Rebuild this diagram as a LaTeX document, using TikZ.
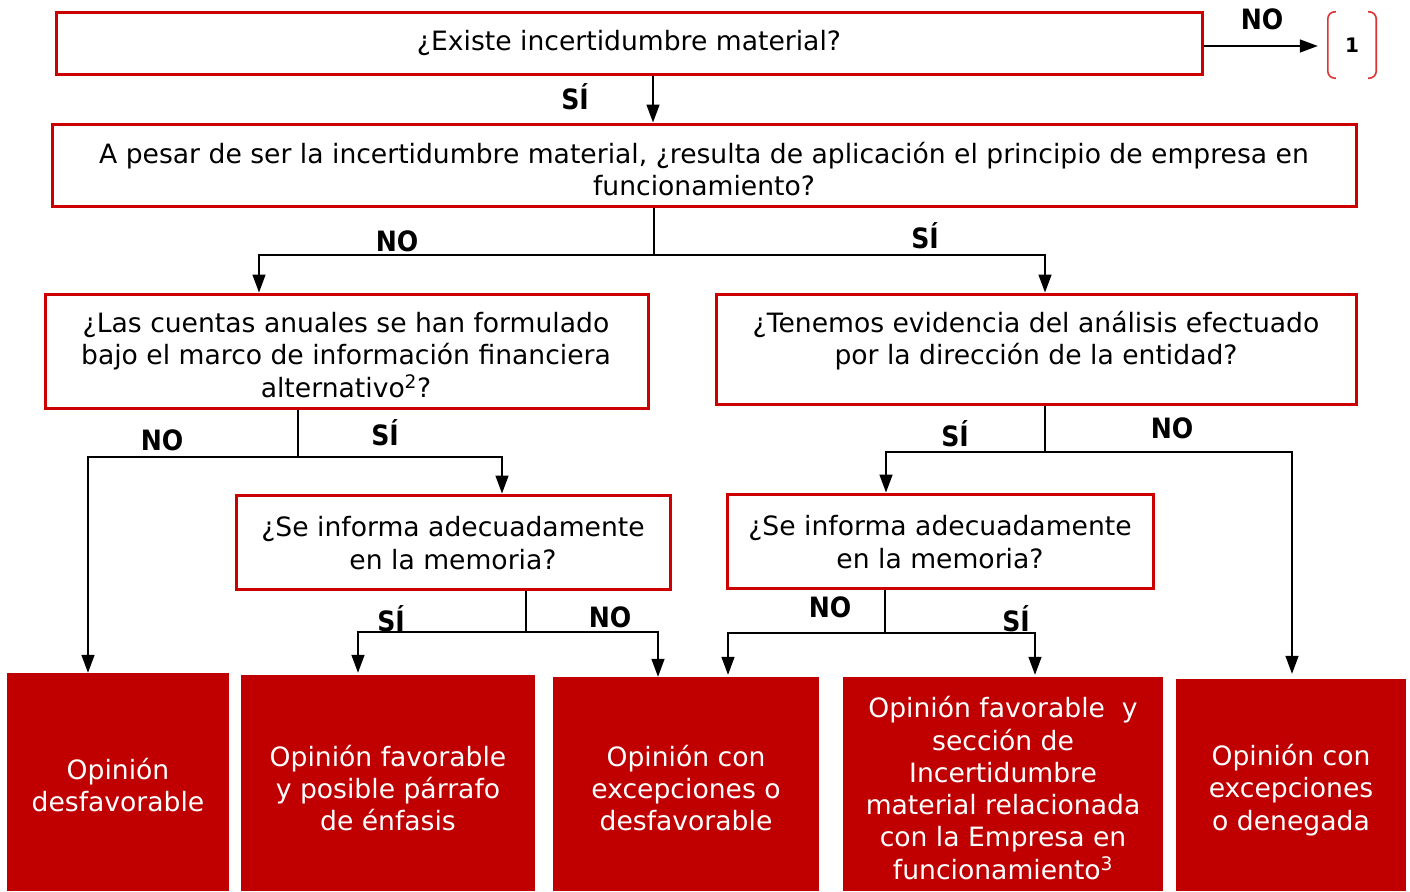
\documentclass[tikz,border=0pt]{standalone}
\usepackage{fontspec}
\setmainfont{DejaVu Sans}
\newfontfamily\labfont{DejaVu Sans Condensed}
\usetikzlibrary{arrows.meta,calc}
\definecolor{qred}{RGB}{204,0,0}
\definecolor{rred}{RGB}{192,0,0}
\definecolor{bred}{RGB}{220,50,50}
\begin{document}
\begin{tikzpicture}[x=1pt,y=-1pt,
  qbox/.style={draw=qred, line width=3pt, inner sep=0pt},
  qtext/.style={font=\fontsize{26.6}{32.5}\selectfont, align=center, inner sep=0pt},
  rbox/.style={fill=rred, inner sep=0pt},
  rtext/.style={font=\fontsize{26.6}{32.3}\selectfont, text=white, align=center, inner sep=0pt},
  lab/.style={font=\labfont\bfseries\fontsize{28}{30}\selectfont, inner sep=0pt},
  conn/.style={line width=1.5pt},
  arr/.style={conn, -{Triangle[length=18pt,width=13pt]}},
  brk/.style={draw=bred, line width=1.6pt, rounded corners=7pt}
]
\useasboundingbox (0,0) rectangle (1410,891);

% question boxes
\node[qbox, minimum width=1146pt, minimum height=61pt] (q1) at (629,43.5) {};
\node[qbox, minimum width=1304pt, minimum height=82pt] (q2) at (704,165) {};
\node[qbox, minimum width=603pt, minimum height=114pt] (q3) at (346.5,351) {};
\node[qbox, minimum width=640pt, minimum height=110pt] (q4) at (1036,349) {};
\node[qbox, minimum width=434pt, minimum height=94pt] (q5) at (453,542) {};
\node[qbox, minimum width=426pt, minimum height=94pt] (q6) at (940,541) {};

\node[qtext] (t1) at (629,43) {¿Existe incertidumbre material?};
\node[qtext] (t2) at (704,169) {A pesar de ser la incertidumbre material, ¿resulta de aplicación el principio de empresa en\\funcionamiento?};
\node[qtext] (t3) at (346,355) {¿Las cuentas anuales se han formulado\\bajo el marco de información financiera\\alternativo\textsuperscript{2}?};
\node[qtext] (t4) at (1036,340.5) {¿Tenemos evidencia del análisis efectuado\\por la dirección de la entidad?};
\node[qtext] (t5) at (453,543) {¿Se informa adecuadamente\\en la memoria?};
\node[qtext] (t6) at (940,542) {¿Se informa adecuadamente\\en la memoria?};

% result boxes
\node[rbox, minimum width=222pt, minimum height=218pt] (b1) at (118,782) {};
\node[rbox, minimum width=294pt, minimum height=216pt] (b2) at (388,783) {};
\node[rbox, minimum width=266pt, minimum height=214pt] (b3) at (686,784) {};
\node[rbox, minimum width=320pt, minimum height=214pt] (b4) at (1003,784) {};
\node[rbox, minimum width=230pt, minimum height=212pt] (b5) at (1291,785) {};

\node[rtext] (r1) at (118,785) {Opinión\\desfavorable};
\node[rtext] (r2) at (388,788) {Opinión favorable\\y posible párrafo\\de énfasis};
\node[rtext] (r3) at (686,788) {Opinión con\\excepciones o\\desfavorable};
\node[rtext] (r4) at (1003,788) {Opinión favorable\ \ y\\sección de\\Incertidumbre\\material relacionada\\con la Empresa en\\funcionamiento\textsuperscript{3}};
\node[rtext] (r5) at (1291,790) {Opinión con\\excepciones\\o denegada};

% box "1"
\node[inner sep=0pt, minimum width=48pt, minimum height=66pt, font=\bfseries\fontsize{20}{22}\selectfont] (n1) at (1352,45) {1};
\draw[brk] ([xshift=8pt]n1.north west) -- (n1.north west) -- (n1.south west) -- ([xshift=8pt]n1.south west);
\draw[brk] ([xshift=-8pt]n1.north east) -- (n1.north east) -- (n1.south east) -- ([xshift=-8pt]n1.south east);

% junctions
\coordinate (j1) at (654,255);
\coordinate (j2) at (298,457);
\coordinate (j3) at (526,632);
\coordinate (j4) at (1045,452);
\coordinate (j5) at (885,633);

% connectors
\draw[arr, shorten >=10pt] (q1.east |- 0,46) -- (n1.west |- 0,46);
\draw[arr] ([xshift=24pt]q1.south) -- ([xshift=-51pt]q2.north);

\draw[conn] (q2.south -| j1) -- (j1);
\draw[arr] (j1) -| ([xshift=-87.5pt]q3.north);
\draw[arr] (j1) -| ([xshift=9pt]q4.north);

\draw[conn] (q3.south -| j2) -- (j2);
\draw[arr] (j2) -| ([xshift=-30pt]b1.north);
\draw[arr] (j2) -| ([xshift=49pt]q5.north);

\draw[conn] (q5.south -| j3) -- (j3);
\draw[arr, shorten >=2pt] (j3) -| ([xshift=-30pt]b2.north);
\draw[arr] (j3) -| ([xshift=-28pt]b3.north);

\draw[conn] (q4.south -| j4) -- (j4);
\draw[arr] (j4) -| ([xshift=-54pt]q6.north);
\draw[arr, shorten >=5pt] (j4) -| ([xshift=1pt]b5.north);

\draw[conn] (q6.south -| j5) -- (j5);
\draw[arr, shorten >=2pt] (j5) -| ([xshift=42pt]b3.north);
\draw[arr, shorten >=2pt] (j5) -| ([xshift=32pt]b4.north);

% labels
\node[lab] (l1) at (1262,19) {NO};
\node[lab] (l2) at (575,97) {SÍ};
\node[lab] (l3) at (397,241) {NO};
\node[lab] (l4) at (925,236) {SÍ};
\node[lab] (l5) at (162,440) {NO};
\node[lab] (l6) at (385,433) {SÍ};
\node[lab] (l7) at (391,619) {SÍ};
\node[lab] (l8) at (610,617) {NO};
\node[lab] (l9) at (955,434) {SÍ};
\node[lab] (l10) at (1172,428) {NO};
\node[lab] (l11) at (830,607) {NO};
\node[lab] (l12) at (1016,619) {SÍ};
\end{tikzpicture}
\end{document}
